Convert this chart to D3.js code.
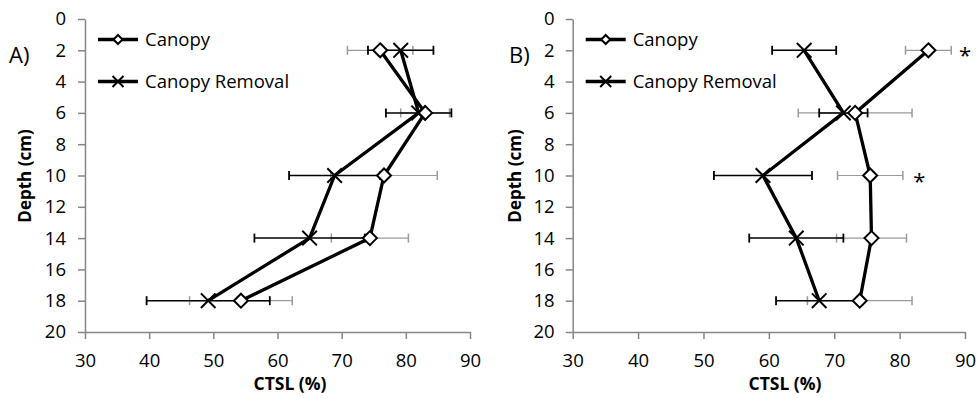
<!DOCTYPE html>
<html>
<head>
<meta charset="utf-8">
<script src="https://cdn.jsdelivr.net/npm/d3@7"></script>
<style>
  body { margin: 0; background: #fff; }
  text { font-family: "Open Sans", sans-serif; }
</style>
</head>
<body>
<div id="container"></div>
<script>
// depths sampled (cm)
const depths = [2, 6, 10, 14, 18];

// panel A
const canopyA = [76, 83, 76.6, 74.4, 54.3];
const canopyErrA = [5.1, 3.8, 8.3, 6.0, 8.0];
const removalA = [79.2, 82, 68.9, 65.0, 49.2];
const removalErrA = [5.1, 5.1, 7.1, 8.6, 9.6];

// panel B
const canopyB = [84.4, 73.2, 75.5, 75.7, 73.9];
const canopyErrB = [3.5, 8.7, 5.0, 5.35, 8.0];
const removalB = [65.4, 71.4, 59.1, 64.2, 67.7];
const removalErrB = [4.9, 3.7, 7.5, 7.2, 6.6];

// significance marks in panel B (depth, CTSL position)
const starsB = [{depth: 2, x: 90}, {depth: 10, x: 83}];

const xTicks = [30, 40, 50, 60, 70, 80, 90];
const yTicks = [0, 2, 4, 6, 8, 10, 12, 14, 16, 18, 20];
const seriesNames = ["Canopy", "Canopy Removal"];

const width = 977, height = 398;
const axisColor = "#868686";

const svg = d3.select("#container")
  .append("svg")
    .attr("width", width)
    .attr("height", height);

function diamond(g, cx, cy, r) {
  g.append("path")
    .attr("d", `M${cx},${cy - r}L${cx + r},${cy}L${cx},${cy + r}L${cx - r},${cy}Z`)
    .attr("fill", "#fff")
    .attr("stroke", "#000")
    .attr("stroke-width", 2);
}

function cross(g, cx, cy, r) {
  g.append("path")
    .attr("d", `M${cx - r},${cy - r}L${cx + r},${cy + r}M${cx - r},${cy + r}L${cx + r},${cy - r}`)
    .attr("fill", "none")
    .attr("stroke", "#000")
    .attr("stroke-width", 2);
}

function drawPanel(opts) {
  const g = svg.append("g");

  const x = d3.scaleLinear().domain([30, 90]).range([opts.left, opts.right]);
  const y = d3.scaleLinear().domain([0, 20]).range([19, 332]);

  // axes
  const yAxis = g.append("g")
    .attr("transform", `translate(${opts.left},0)`)
    .call(d3.axisLeft(y).tickValues(yTicks).tickSize(7).tickSizeOuter(0).tickPadding(opts.yPad));
  const xAxis = g.append("g")
    .attr("transform", `translate(0,${y(20)})`)
    .call(d3.axisBottom(x).tickValues(xTicks).tickSize(7).tickSizeOuter(0).tickPadding(15));
  [xAxis, yAxis].forEach(a => {
    a.select(".domain").attr("stroke", axisColor).attr("stroke-width", 1.5);
    a.selectAll(".tick line").attr("stroke", axisColor).attr("stroke-width", 1.5);
    a.selectAll(".tick text").attr("fill", "#000").style("font-size", "18.5px")
      .style("font-family", "'Open Sans', sans-serif");
  });

  // error bars: canopy grey, removal black
  const bars = [
    {vals: opts.canopy, err: opts.canopyErr, color: "#9a9a9a", w: 1.2},
    {vals: opts.removal, err: opts.removalErr, color: "#000", w: 1.5}
  ];
  bars.forEach(b => {
    depths.forEach((d, i) => {
      const x0 = x(b.vals[i] - b.err[i]), x1 = x(b.vals[i] + b.err[i]), yy = y(d);
      g.append("line").attr("x1", x0).attr("x2", x1).attr("y1", yy).attr("y2", yy)
        .attr("stroke", b.color).attr("stroke-width", b.w);
      [x0, x1].forEach(xc => {
        g.append("line").attr("x1", xc).attr("x2", xc).attr("y1", yy - 4.5).attr("y2", yy + 4.5)
          .attr("stroke", b.color).attr("stroke-width", b.w + 0.3);
      });
    });
  });

  // series lines
  const line = d3.line().x(d => x(d[1])).y(d => y(d[0]));
  [opts.canopy, opts.removal].forEach(vals => {
    g.append("path")
      .datum(depths.map((d, i) => [d, vals[i]]))
      .attr("fill", "none")
      .attr("stroke", "#000")
      .attr("stroke-width", 3.3)
      .attr("d", line);
  });

  // markers
  depths.forEach((d, i) => diamond(g, x(opts.canopy[i]), y(d), 7));
  depths.forEach((d, i) => cross(g, x(opts.removal[i]), y(d), 7.3));

  // significance stars
  (opts.stars || []).forEach(s => {
    g.append("text")
      .attr("x", x(s.x)).attr("y", y(s.depth) + 13)
      .attr("text-anchor", "middle")
      .style("font-size", "22px")
      .text("*");
  });

  // legend
  const lx = opts.left + 13;
  [39.5, 81.5].forEach((ly, i) => {
    g.append("line").attr("x1", lx).attr("x2", lx + 40).attr("y1", ly).attr("y2", ly)
      .attr("stroke", "#000").attr("stroke-width", 3.3);
    if (i === 0) diamond(g, lx + 20, ly, 4.5);
    else cross(g, lx + 20, ly, 5.5);
    g.append("text")
      .attr("x", lx + 47).attr("y", ly + 6.5)
      .style("font-size", "18.5px")
      .text(seriesNames[i]);
  });

  // panel letter
  g.append("text")
    .attr("x", opts.letterX).attr("y", 63)
    .style("font-size", "22px")
    .text(opts.letter);

  // axis titles
  g.append("text")
    .attr("transform", `translate(${opts.titleYX},176) rotate(-90)`)
    .attr("text-anchor", "middle")
    .attr("dy", "0.35em")
    .style("font-size", "17px")
    .style("font-weight", "bold")
    .text("Depth (cm)");
  g.append("text")
    .attr("x", opts.titleXX).attr("y", 390)
    .attr("text-anchor", "middle")
    .style("font-size", "17.5px")
    .style("font-weight", "bold")
    .text("CTSL (%)");
}

drawPanel({
  left: 85, right: 470, yPad: 12,
  canopy: canopyA, canopyErr: canopyErrA,
  removal: removalA, removalErr: removalErrA,
  letter: "A)", letterX: 9, titleYX: 25, titleXX: 290
});

drawPanel({
  left: 572.7, right: 965, yPad: 11,
  canopy: canopyB, canopyErr: canopyErrB,
  removal: removalB, removalErr: removalErrB,
  stars: starsB,
  letter: "B)", letterX: 509, titleYX: 515, titleXX: 785
});
</script>
</body>
</html>
